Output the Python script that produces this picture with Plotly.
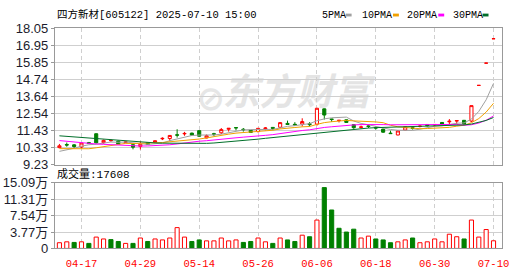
import plotly.graph_objects as go
import numpy as np
import pandas as pd

# ---------------- data ----------------
dates = ["04-14", "04-15", "04-16", "04-17", "04-18", "04-21", "04-22", "04-23", "04-24", "04-25",
         "04-28", "04-29", "04-30", "05-06", "05-07", "05-08", "05-09", "05-12", "05-13", "05-14",
         "05-15", "05-16", "05-19", "05-20", "05-21", "05-22", "05-23", "05-26", "05-27", "05-28",
         "05-29", "05-30", "06-03", "06-04", "06-05", "06-06", "06-09", "06-10", "06-11", "06-12",
         "06-13", "06-16", "06-17", "06-18", "06-19", "06-20", "06-23", "06-24", "06-25", "06-26",
         "06-27", "06-30", "07-01", "07-02", "07-03", "07-04", "07-07", "07-08", "07-09", "07-10"]

# closes of the 29 sessions before the window (only needed for the moving averages)
pre_close = [11.60, 11.75, 11.85, 11.70, 11.80, 11.65, 11.75, 11.70, 11.62, 11.68,
             11.55, 11.50, 11.40, 11.45, 11.30, 11.25, 11.20, 11.15, 11.20, 11.10,
             10.50, 10.40, 10.55, 10.75, 10.00, 10.10, 9.80, 9.95, 10.15]

open_ = [10.33, 10.53, 10.51, 10.37, 10.66, 11.23, 10.65, 10.78, 10.75, 10.66,
         10.52, 10.41, 10.64, 10.66, 10.90, 10.92, 11.16, 11.22, 11.27, 11.43,
         10.96, 11.23, 11.29, 11.52, 11.63, 11.52, 11.45, 11.37, 11.56, 11.64,
         11.65, 11.90, 11.84, 11.86, 11.88, 11.85, 12.84, 12.19, 12.08, 12.13,
         11.82, 11.64, 11.74, 11.63, 11.53, 11.27, 11.15, 11.47, 11.62, 11.70,
         11.83, 11.80, 11.96, 12.00, 12.05, 12.10, 12.05, 14.36, 15.80, 17.38]
high = [10.57, 10.66, 10.56, 10.65, 10.70, 11.25, 10.85, 10.88, 10.78, 10.75,
        10.55, 10.72, 10.68, 10.80, 11.00, 11.14, 11.52, 11.35, 11.30, 11.45,
        11.18, 11.29, 11.60, 11.59, 11.64, 11.60, 11.47, 11.60, 11.66, 11.65,
        11.97, 12.08, 11.98, 12.23, 11.98, 12.90, 12.86, 12.20, 12.12, 12.15,
        11.84, 11.76, 11.86, 11.70, 11.55, 11.43, 11.45, 11.70, 11.70, 11.78,
        11.85, 11.86, 11.97, 12.18, 12.10, 12.12, 13.05, 14.36, 15.80, 17.38]
low = [10.30, 10.39, 10.30, 10.29, 10.56, 10.60, 10.58, 10.72, 10.52, 10.62,
       10.22, 10.21, 10.50, 10.64, 10.82, 10.74, 10.98, 11.10, 11.10, 11.05,
       10.93, 11.08, 11.21, 11.37, 11.45, 11.37, 11.28, 11.31, 11.45, 11.46,
       11.58, 11.80, 11.76, 11.70, 11.70, 11.75, 12.15, 12.00, 11.96, 11.93,
       11.55, 11.56, 11.60, 11.50, 11.29, 11.22, 11.13, 11.44, 11.50, 11.64,
       11.70, 11.72, 11.82, 11.86, 11.85, 11.83, 11.98, 14.36, 15.80, 17.38]
close = [10.45, 10.50, 10.40, 10.63, 10.60, 10.64, 10.80, 10.79, 10.55, 10.70,
         10.36, 10.55, 10.53, 10.78, 10.93, 11.12, 11.14, 11.25, 11.14, 11.07,
         11.10, 11.20, 11.50, 11.58, 11.61, 11.49, 11.31, 11.58, 11.60, 11.58,
         11.95, 11.83, 11.80, 12.02, 11.82, 12.88, 12.44, 12.15, 12.10, 11.96,
         11.62, 11.67, 11.70, 11.60, 11.33, 11.24, 11.41, 11.68, 11.58, 11.72,
         11.75, 11.83, 11.85, 12.04, 12.08, 11.86, 13.05, 14.36, 15.80, 17.38]
# volume in 万手
volume_wan = [1.31, 1.52, 1.38, 1.52, 1.16, 2.61, 2.18, 2.03, 1.60, 1.16,
              1.16, 2.40, 1.60, 2.18, 1.96, 2.40, 4.79, 2.61, 1.60, 1.96,
              1.74, 1.74, 2.40, 1.74, 1.96, 1.38, 1.60, 2.40, 1.52, 1.16,
              2.40, 1.96, 1.60, 3.05, 2.69, 6.53, 14.00, 8.85, 4.64, 3.77,
              4.43, 2.40, 2.83, 2.18, 1.96, 1.31, 1.52, 1.96, 2.40, 1.31,
              1.52, 2.18, 1.52, 3.27, 2.69, 2.18, 6.53, 2.61, 4.35, 1.7608]
last_volume_shou = 17608

tick_dates = ["04-17", "04-29", "05-14", "05-26", "06-06", "06-18", "06-30", "07-10"]
price_ticks = [9.23, 10.33, 11.43, 12.54, 13.64, 14.74, 15.85, 16.95, 18.05]
vol_ticks = [0, 3.77, 7.54, 11.31, 15.09]
vol_tick_text = ["0", "3.77万", "7.54万", "11.31万", "15.09万"]
ma_periods = [5, 10, 20, 30]
ma_names = ["5PMA", "10PMA", "20PMA", "30PMA"]
ma_colors = ["#a0a0a0", "#f0a000", "#ff00ff", "#006f2a"]

title_text = "四方新材[605122] 2025-07-10 15:00"

# ---------------- derived ----------------
all_close = pd.Series(pre_close + close)
n_pre = len(pre_close)
mas = [all_close.rolling(p).mean().to_numpy()[n_pre:] for p in ma_periods]

prev_close = [pre_close[-1]] + close[:-1]
vol_up = [c >= pc for c, pc in zip(close, prev_close)]
RED = "#ff0000"
GREEN = "#008000"
vol_fill = ["#ffffff" if u else GREEN for u in vol_up]
vol_line = [RED if u else GREEN for u in vol_up]

W, H = 530, 276
x_left, x_right = 55.7, 509.3
p_top, p_bot = 22.6, 166.7
v_top, v_bot = 186.0, 255.3

def py(v):
    return 1 - v / H

fig = go.Figure()

for p, name, col, m in zip(ma_periods, ma_names, ma_colors, mas):
    fig.add_trace(go.Scatter(x=dates, y=m, mode="lines", name=name,
                             line=dict(color=col, width=1), hoverinfo="skip",
                             xaxis="x", yaxis="y"))

fig.add_trace(go.Candlestick(
    x=dates, open=open_, high=high, low=low, close=close,
    increasing=dict(line=dict(color=RED, width=1), fillcolor="#ffffff"),
    decreasing=dict(line=dict(color=GREEN, width=1), fillcolor=GREEN),
    whiskerwidth=0, hoverinfo="skip", xaxis="x", yaxis="y"))

fig.add_trace(go.Bar(x=dates, y=volume_wan, width=0.56,
                     marker=dict(color=vol_fill, line=dict(color=vol_line, width=1)),
                     hoverinfo="skip", xaxis="x2", yaxis="y2"))

grid_c = "#cfcfcf"
frame_c = "#999999"
label_font = dict(family="Liberation Sans, Arial, Noto Sans CJK SC", size=13, color="#1c1c2c")

xcommon = dict(type="category", categoryorder="array", categoryarray=dates,
               range=[-0.62, 60.1], domain=[x_left / W, x_right / W],
               tickvals=tick_dates, ticktext=tick_dates,
               showgrid=True, gridcolor=grid_c, griddash="4px,3px", gridwidth=1,
               showline=True, mirror=True, linecolor=frame_c, linewidth=1,
               ticks="", zeroline=False, fixedrange=True)

fig.update_layout(
    width=W, height=H, autosize=False,
    margin=dict(l=0, r=0, t=0, b=0),
    paper_bgcolor="#ffffff", plot_bgcolor="rgba(0,0,0,0)",
    showlegend=False, boxgap=0.4,
    xaxis=dict(xcommon, anchor="y", showticklabels=False,
               rangeslider=dict(visible=False)),
    xaxis2=dict(xcommon, anchor="y2", matches="x", showticklabels=True,
                tickfont=dict(family="Liberation Mono, monospace", size=10.5, color="#ff0000"),
                ticklabelstandoff=5),
    yaxis=dict(domain=[py(p_bot), py(p_top)], range=[price_ticks[0], price_ticks[-1]],
               tickvals=price_ticks, ticktext=[f"{v:.2f}" for v in price_ticks],
               showgrid=True, gridcolor=grid_c, gridwidth=1,
               showline=True, mirror=True, linecolor=frame_c, linewidth=1,
               ticks="outside", ticklen=3, tickcolor=frame_c,
               tickfont=label_font, zeroline=False, fixedrange=True),
    yaxis2=dict(domain=[py(v_bot), py(v_top)], range=[vol_ticks[0], vol_ticks[-1]],
                tickvals=vol_ticks, ticktext=vol_tick_text,
                showgrid=True, gridcolor=grid_c, gridwidth=1,
                showline=True, mirror=True, linecolor=frame_c, linewidth=1,
                ticks="outside", ticklen=3, tickcolor=frame_c,
                tickfont=label_font, zeroline=False, fixedrange=True),
)

mono_cjk = "Liberation Mono, Noto Sans CJK SC"
ann = [
    dict(text=title_text, x=56 / W, y=py(8.3), xanchor="left", yanchor="middle",
         font=dict(family=mono_cjk, size=10.5, color="#000000")),
    dict(text=f"成交量:{last_volume_shou}", x=56 / W, y=py(177), xanchor="left", yanchor="middle",
         font=dict(family=mono_cjk, size=11, color="#000000")),
]
legend_x = [325, 366, 411, 458]
swatch_x = [351, 399, 445, 490]
shapes = []
for name, col, lx, sx in zip(ma_names, ma_colors, legend_x, swatch_x):
    ann.append(dict(text=name, x=lx / W, y=py(8.5), xanchor="left", yanchor="middle",
                    font=dict(family="Liberation Mono, monospace", size=10, color="#000000")))
    shapes.append(dict(type="rect", xref="paper", yref="paper",
                       x0=sx / W, x1=(sx + 6) / W, y0=py(10), y1=py(7),
                       fillcolor=col, line=dict(width=0)))
for a in ann:
    a.update(xref="paper", yref="paper", showarrow=False)

# watermark (logo swoosh + brand name), drawn beneath everything
shapes.append(dict(type="rect", xref="paper", yref="paper", layer="below",
                   x0=196 / W, x1=232 / W, y0=py(114), y1=py(74),
                   line=dict(width=0), fillcolor="rgba(0,0,0,0)",
                   label=dict(text="<b>⊘</b>", textposition="middle center",
                              font=dict(family="DejaVu Sans", size=34, color="#e6e6e6"))))
shapes.append(dict(type="rect", xref="paper", yref="paper", layer="below",
                   x0=226 / W, x1=376 / W, y0=py(113), y1=py(73),
                   line=dict(width=0), fillcolor="rgba(0,0,0,0)",
                   label=dict(text="<b><i>东方财富</i></b>", textposition="middle center",
                              font=dict(family="Noto Sans CJK SC", size=37, color="#e4e4e4"))))

fig.update_layout(annotations=ann, shapes=shapes)
fig.write_html("out.html")
